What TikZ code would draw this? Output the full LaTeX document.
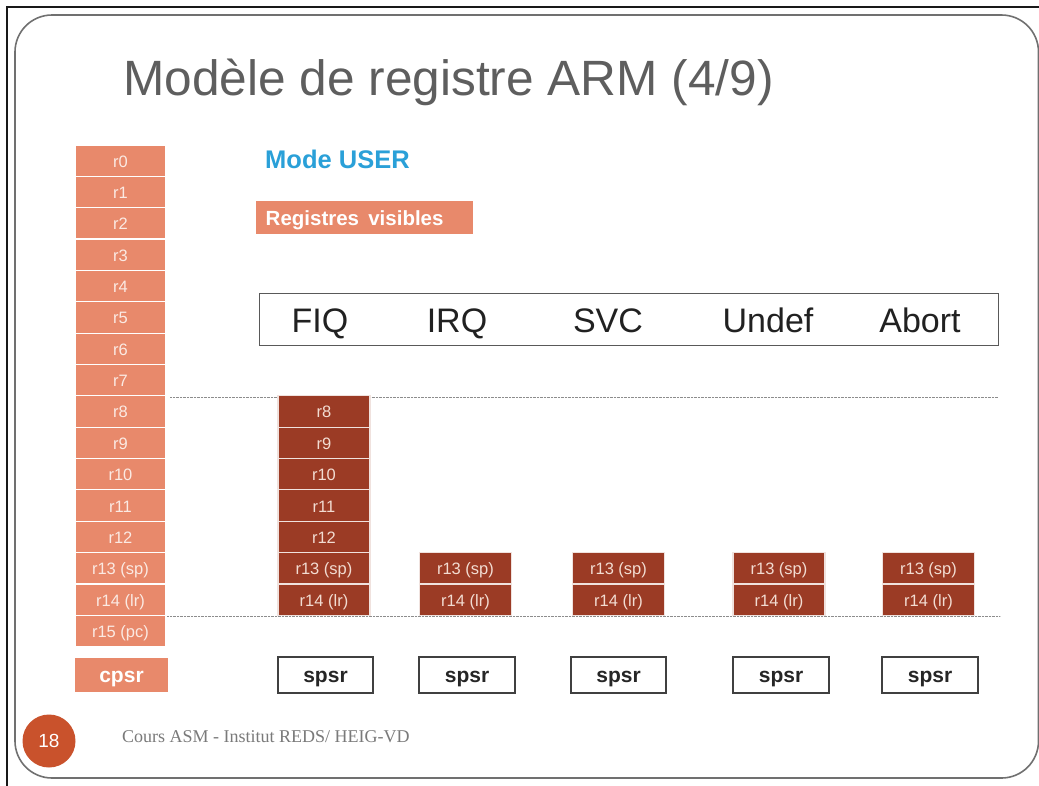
\documentclass[tikz,border=0pt]{standalone}
\usepackage{fontspec}
\setmainfont{Liberation Sans}
\newfontfamily\serifft{Liberation Serif}
\definecolor{lightreg}{HTML}{E8896B}
\definecolor{darkreg}{HTML}{9B3B25}
\definecolor{lighttxt}{HTML}{FBEAE3}
\definecolor{darktxt}{HTML}{F2DCD2}
\definecolor{titlegray}{HTML}{5E5E5E}
\definecolor{framegray}{HTML}{707070}
\definecolor{modeblue}{HTML}{2AA0D8}
\definecolor{pagered}{HTML}{C9522C}
\definecolor{footgray}{HTML}{7A7A7A}
\newcommand{\fsz}[1]{\fontsize{#1}{#1}\selectfont}
\tikzset{
  lreg/.style={rectangle, fill=lightreg, draw=white, line width=1.2pt, minimum width=91, minimum height=31.35, inner sep=0, text=lighttxt, font=\fsz{16.5}, text height=13pt, text depth=0pt},
  dreg/.style={rectangle, fill=darkreg, draw=white!85!darkreg, line width=1.2pt, minimum width=92, minimum height=31.35, inner sep=0, text=darktxt, font=\fsz{16.5}, text height=13pt, text depth=0pt},
  spsrbox/.style={rectangle, draw=black!75, line width=1.3pt, minimum width=95, minimum height=36, inner sep=0, font=\bfseries\fsz{21}, text=black!85, text height=14pt, text depth=0pt},
  hdrtxt/.style={anchor=base, inner sep=0, font=\fsz{34}, text=black!87},
  sepline/.style={draw=black!45, line width=0.8pt, dash pattern=on 0.8pt off 0.6pt}
}
\begin{document}
\begin{tikzpicture}[x=1pt,y=-1pt]
\useasboundingbox (0,0) rectangle (1039,785);
\fill[white] (0,0) rectangle (1039,785);
% outer frame
\draw[black!90, line width=2.6pt] (7,790) -- (7,7) -- (1045,7);
\draw[framegray, line width=1.6pt, rounded corners=37pt] (15,15) rectangle (1038.5,778);
% title
\node[anchor=base west, inner sep=0, text=titlegray, font=\fsz{49.6}] (title) at (123,95) {Modèle de registre ARM (4/9)};
% mode user
\node[anchor=base west, inner sep=0, text=modeblue, font=\bfseries\fsz{25.5}] (mode) at (265,168) {Mode USER};
\node[rectangle, fill=lightreg, minimum width=217, minimum height=33, inner sep=0, anchor=north west] (visbox) at (256,201) {};
\node[anchor=base west, inner sep=0, text=white, font=\bfseries\fsz{20.5}] (vistxt) at (265.5,225) {Registres\hspace{0.45em}visibles};
% user registers
\foreach \i/\t in {0/r0,1/r1,2/r2,3/r3,4/r4,5/r5,6/r6,7/r7,8/r8,9/r9,10/r10,11/r11,12/r12,13/r13 (sp),14/r14 (lr),15/r15 (pc)}{
  \node[lreg] (u\i) at (120.5,{145+31.35*(\i+0.5)}) {\t};
}
\node[rectangle, fill=lightreg, minimum width=93, minimum height=34, inner sep=0, text=white, font=\bfseries\fsz{21}, text height=14pt, text depth=0pt] (cpsr) at (121.5,675) {cpsr};
% header box
\node[rectangle, draw=black!65, line width=1.3pt, minimum width=739, minimum height=52, anchor=north west] (hdr) at (259,293) {};
\node[hdrtxt] (hFIQ) at (320,332) {FIQ};
\node[hdrtxt] (hIRQ) at (457,332) {IRQ};
\node[hdrtxt] (hSVC) at (608,332) {SVC};
\node[hdrtxt] (hUnd) at (768,332) {Undef};
\node[hdrtxt] (hAbt) at (920,332) {Abort};
% separator lines
\coordinate (s1a) at (170,397.5);
\coordinate (s1b) at (998,397.5);
\coordinate (s2a) at (167,616.5);
\coordinate (s2b) at (1000,616.5);
\draw[sepline] (s1a) -- (s1b);
\draw[sepline] (s2a) -- (s2b);
% FIQ banked
\foreach \i/\t in {8/r8,9/r9,10/r10,11/r11,12/r12,13/r13 (sp),14/r14 (lr)}{
  \node[dreg] (f\i) at (324,{145+31.35*(\i+0.5)}) {\t};
}
% other modes
\foreach \n/\x in {irq/465.5,svc/618.5,und/779,abt/928.5}{
  \node[dreg] (\n13) at (\x,{145+31.35*13.5}) {r13 (sp)};
  \node[dreg] (\n14) at (\x,{145+31.35*14.5}) {r14 (lr)};
}
% spsr boxes
\node[spsrbox] (pfiq) at (325.5,675) {spsr};
\node[spsrbox, minimum width=96] (pirq) at (467,675) {spsr};
\node[spsrbox] (psvc) at (618.5,675) {spsr};
\node[spsrbox, minimum width=96] (pund) at (781,675) {spsr};
\node[spsrbox, minimum width=96] (pabt) at (930,675) {spsr};
% footer
\node[circle, fill=pagered, minimum size=53, inner sep=0, text=white, font=\fsz{19}] (page) at (49,741) {18};
\node[anchor=base west, inner sep=0, text=footgray, font=\serifft\fsz{18}] (foot) at (122,742) {Cours ASM - Institut REDS/ HEIG-VD};
\end{tikzpicture}
\end{document}
